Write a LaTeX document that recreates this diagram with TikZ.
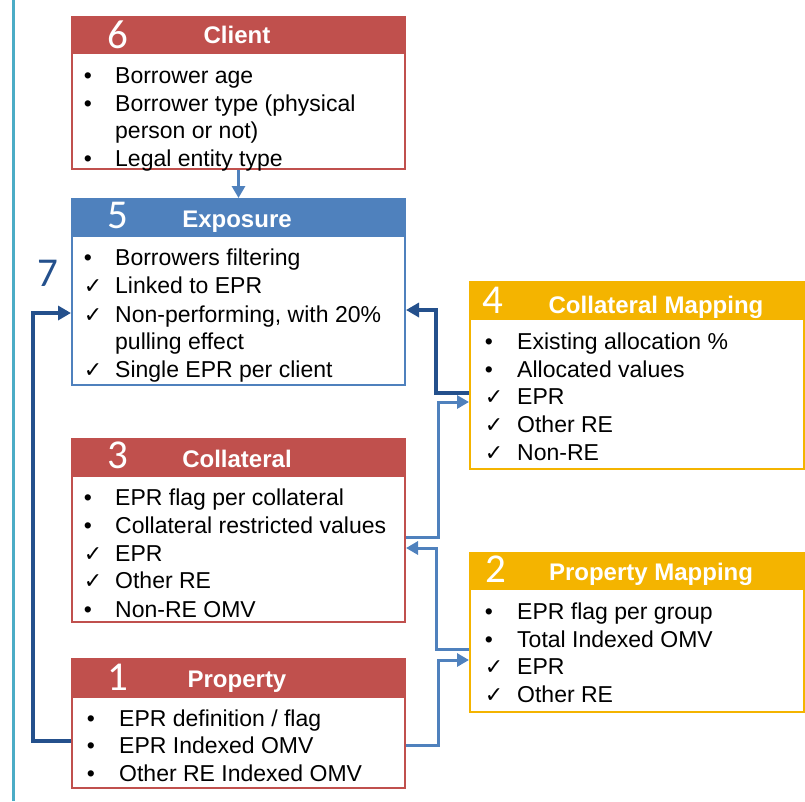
\documentclass[tikz,border=0pt]{standalone}
\usepackage{fontspec}
\setmainfont{Liberation Sans}
\newfontfamily\numfont{Carlito}
\newfontfamily\dejavu{DejaVu Sans}
\usetikzlibrary{arrows.meta}
\definecolor{hred}{RGB}{192,80,77}
\definecolor{hblue}{RGB}{79,129,189}
\definecolor{hgold}{RGB}{244,180,0}
\definecolor{dkblue}{RGB}{36,80,140}
\definecolor{cyanline}{RGB}{75,172,198}
\tikzset{
 box/.style={draw=#1, line width=2pt, anchor=north west, inner sep=0pt, fill=white},
 hdr/.style={fill=#1, draw=#1, line width=2pt, anchor=north west, inner sep=0pt, minimum height=36pt},
 ttl/.style={text=white, font=\fontsize{24}{28}\selectfont\bfseries, anchor=base, inner sep=0pt},
 num/.style={text=white, font=\numfont\fontsize{41}{44}\selectfont, anchor=base, inner sep=0pt},
 txt/.style={anchor=base west, inner sep=0pt, font=\fontsize{23}{28}\selectfont},
 sym/.style={anchor=base, inner sep=0pt},
 lconn/.style={draw=hblue, line width=3pt, -{Triangle[length=12pt,width=13pt]}},
 dconn/.style={draw=dkblue, line width=4pt, -{Triangle[length=13pt,width=14pt]}},
}
\newcommand{\bu}{{\fontsize{23}{28}\selectfont •}}
\newcommand{\ck}{{\dejavu\fontsize{22}{24}\selectfont ✓}}
% name, symx, textx, y, symbol, text
\newcommand{\li}[6]{\node[sym] (#1s) at (#2,#4) {#5}; \node[txt] (#1) at (#3,#4) {#6};}
\newcommand{\lc}[4]{\node[txt] (#1) at (#2,#3) {#4};}
\begin{document}
\begin{tikzpicture}[x=1pt,y=-1pt]
\useasboundingbox (0,0) rectangle (805,801);
\draw[cyanline, line width=3pt] (13,0) -- (13,801);

% boxes
\node[box=hred, minimum width=333pt, minimum height=152pt] (client) at (71,16) {};
\node[hdr=hred, minimum width=333pt] (clienth) at (client.north west) {};
\node[box=hblue, minimum width=333pt, minimum height=186pt] (exp) at (71,198) {};
\node[hdr=hblue, minimum width=333pt, minimum height=37pt] (exph) at (exp.north west) {};
\node[box=hred, minimum width=333pt, minimum height=183pt] (coll) at (71,438) {};
\node[hdr=hred, minimum width=333pt, minimum height=37pt] (collh) at (coll.north west) {};
\node[box=hred, minimum width=333pt, minimum height=129pt] (prop) at (71,658) {};
\node[hdr=hred, minimum width=333pt, minimum height=38pt] (proph) at (prop.north west) {};
\node[box=hgold, minimum width=334pt, minimum height=187pt] (cmap) at (469,281) {};
\node[hdr=hgold, minimum width=334pt, minimum height=37pt] (cmaph) at (cmap.north west) {};
\node[box=hgold, minimum width=334pt, minimum height=159pt] (pmap) at (469,552) {};
\node[hdr=hgold, minimum width=334pt, minimum height=36pt] (pmaph) at (pmap.north west) {};

% titles and numbers
\node[ttl] (t6) at (237,43) {Client};
\node[num] (n6) at (118,48) {6};
\node[ttl] (t5) at (237,227) {Exposure};
\node[num] (n5) at (118,228) {5};
\node[ttl] (t3) at (237,467) {Collateral};
\node[num] (n3) at (118,468) {3};
\node[ttl] (t1) at (237,687) {Property};
\node[num] (n1) at (118,690) {1};
\node[ttl] (t4) at (656,313) {Collateral Mapping};
\node[num] (n4) at (493,313) {4};
\node[ttl] (t2) at (651,580) {Property Mapping};
\node[num] (n2) at (496,582) {2};

% client items
\li{c1}{88}{115}{83}{\bu}{Borrower age}
\li{c2}{88}{115}{111}{\bu}{Borrower type (physical}
\lc{c2b}{115}{138}{person or not)}
\li{c3}{88}{115}{166}{\bu}{Legal entity type}

% exposure items
\li{e1}{88}{115}{265}{\bu}{Borrowers filtering}
\li{e2}{93}{115}{293}{\ck}{Linked to EPR}
\li{e3}{93}{115}{322}{\ck}{Non-performing, with 20\%}
\lc{e3b}{115}{349}{pulling effect}
\li{e4}{93}{115}{377}{\ck}{Single EPR per client}

% collateral items
\li{k1}{88}{115}{505}{\bu}{EPR flag per collateral}
\li{k2}{88}{115}{533}{\bu}{Collateral restricted values}
\li{k3}{93}{115}{561}{\ck}{EPR}
\li{k4}{93}{115}{588}{\ck}{Other RE}
\li{k5}{88}{115}{617}{\bu}{Non-RE OMV}

% property items
\li{p1}{91}{119}{726}{\bu}{EPR definition / flag}
\li{p2}{91}{119}{753}{\bu}{EPR Indexed OMV}
\li{p3}{91}{119}{781}{\bu}{Other RE Indexed OMV}

% collateral mapping items
\li{m1}{489}{517}{349}{\bu}{Existing allocation \%}
\li{m2}{489}{517}{377}{\bu}{Allocated values}
\li{m3}{494}{517}{404}{\ck}{EPR}
\li{m4}{494}{517}{432}{\ck}{Other RE}
\li{m5}{494}{517}{460}{\ck}{Non-RE}

% property mapping items
\li{q1}{489}{517}{619}{\bu}{EPR flag per group}
\li{q2}{489}{517}{647}{\bu}{Total Indexed OMV}
\li{q3}{494}{517}{674}{\ck}{EPR}
\li{q4}{494}{517}{702}{\ck}{Other RE}

% label 7
\node[num, text=dkblue] (seven) at (48,286) {7};

% connectors
\draw[lconn] (client.south) -- (exph.north);
\draw[dconn] ([yshift=-17.5pt]prop.west) -- ++(-38,0) |- ([yshift=-21pt]exp.west);
\draw[dconn] ([yshift=-17.5pt]cmap.west) -- ++(-33,0) |- ([yshift=-18pt]exp.east);
\draw[lconn] ([yshift=-6.5pt]coll.east) -- ++(32,0) |- ([yshift=-26.5pt]cmap.west);
\draw[lconn] ([yshift=-16.5pt]pmap.west) -- ++(-33,0) |- ([yshift=-17.5pt]coll.east);
\draw[lconn] ([yshift=-21.5pt]prop.east) -- ++(32,0) |- ([yshift=-27.5pt]pmap.west);
\end{tikzpicture}
\end{document}
